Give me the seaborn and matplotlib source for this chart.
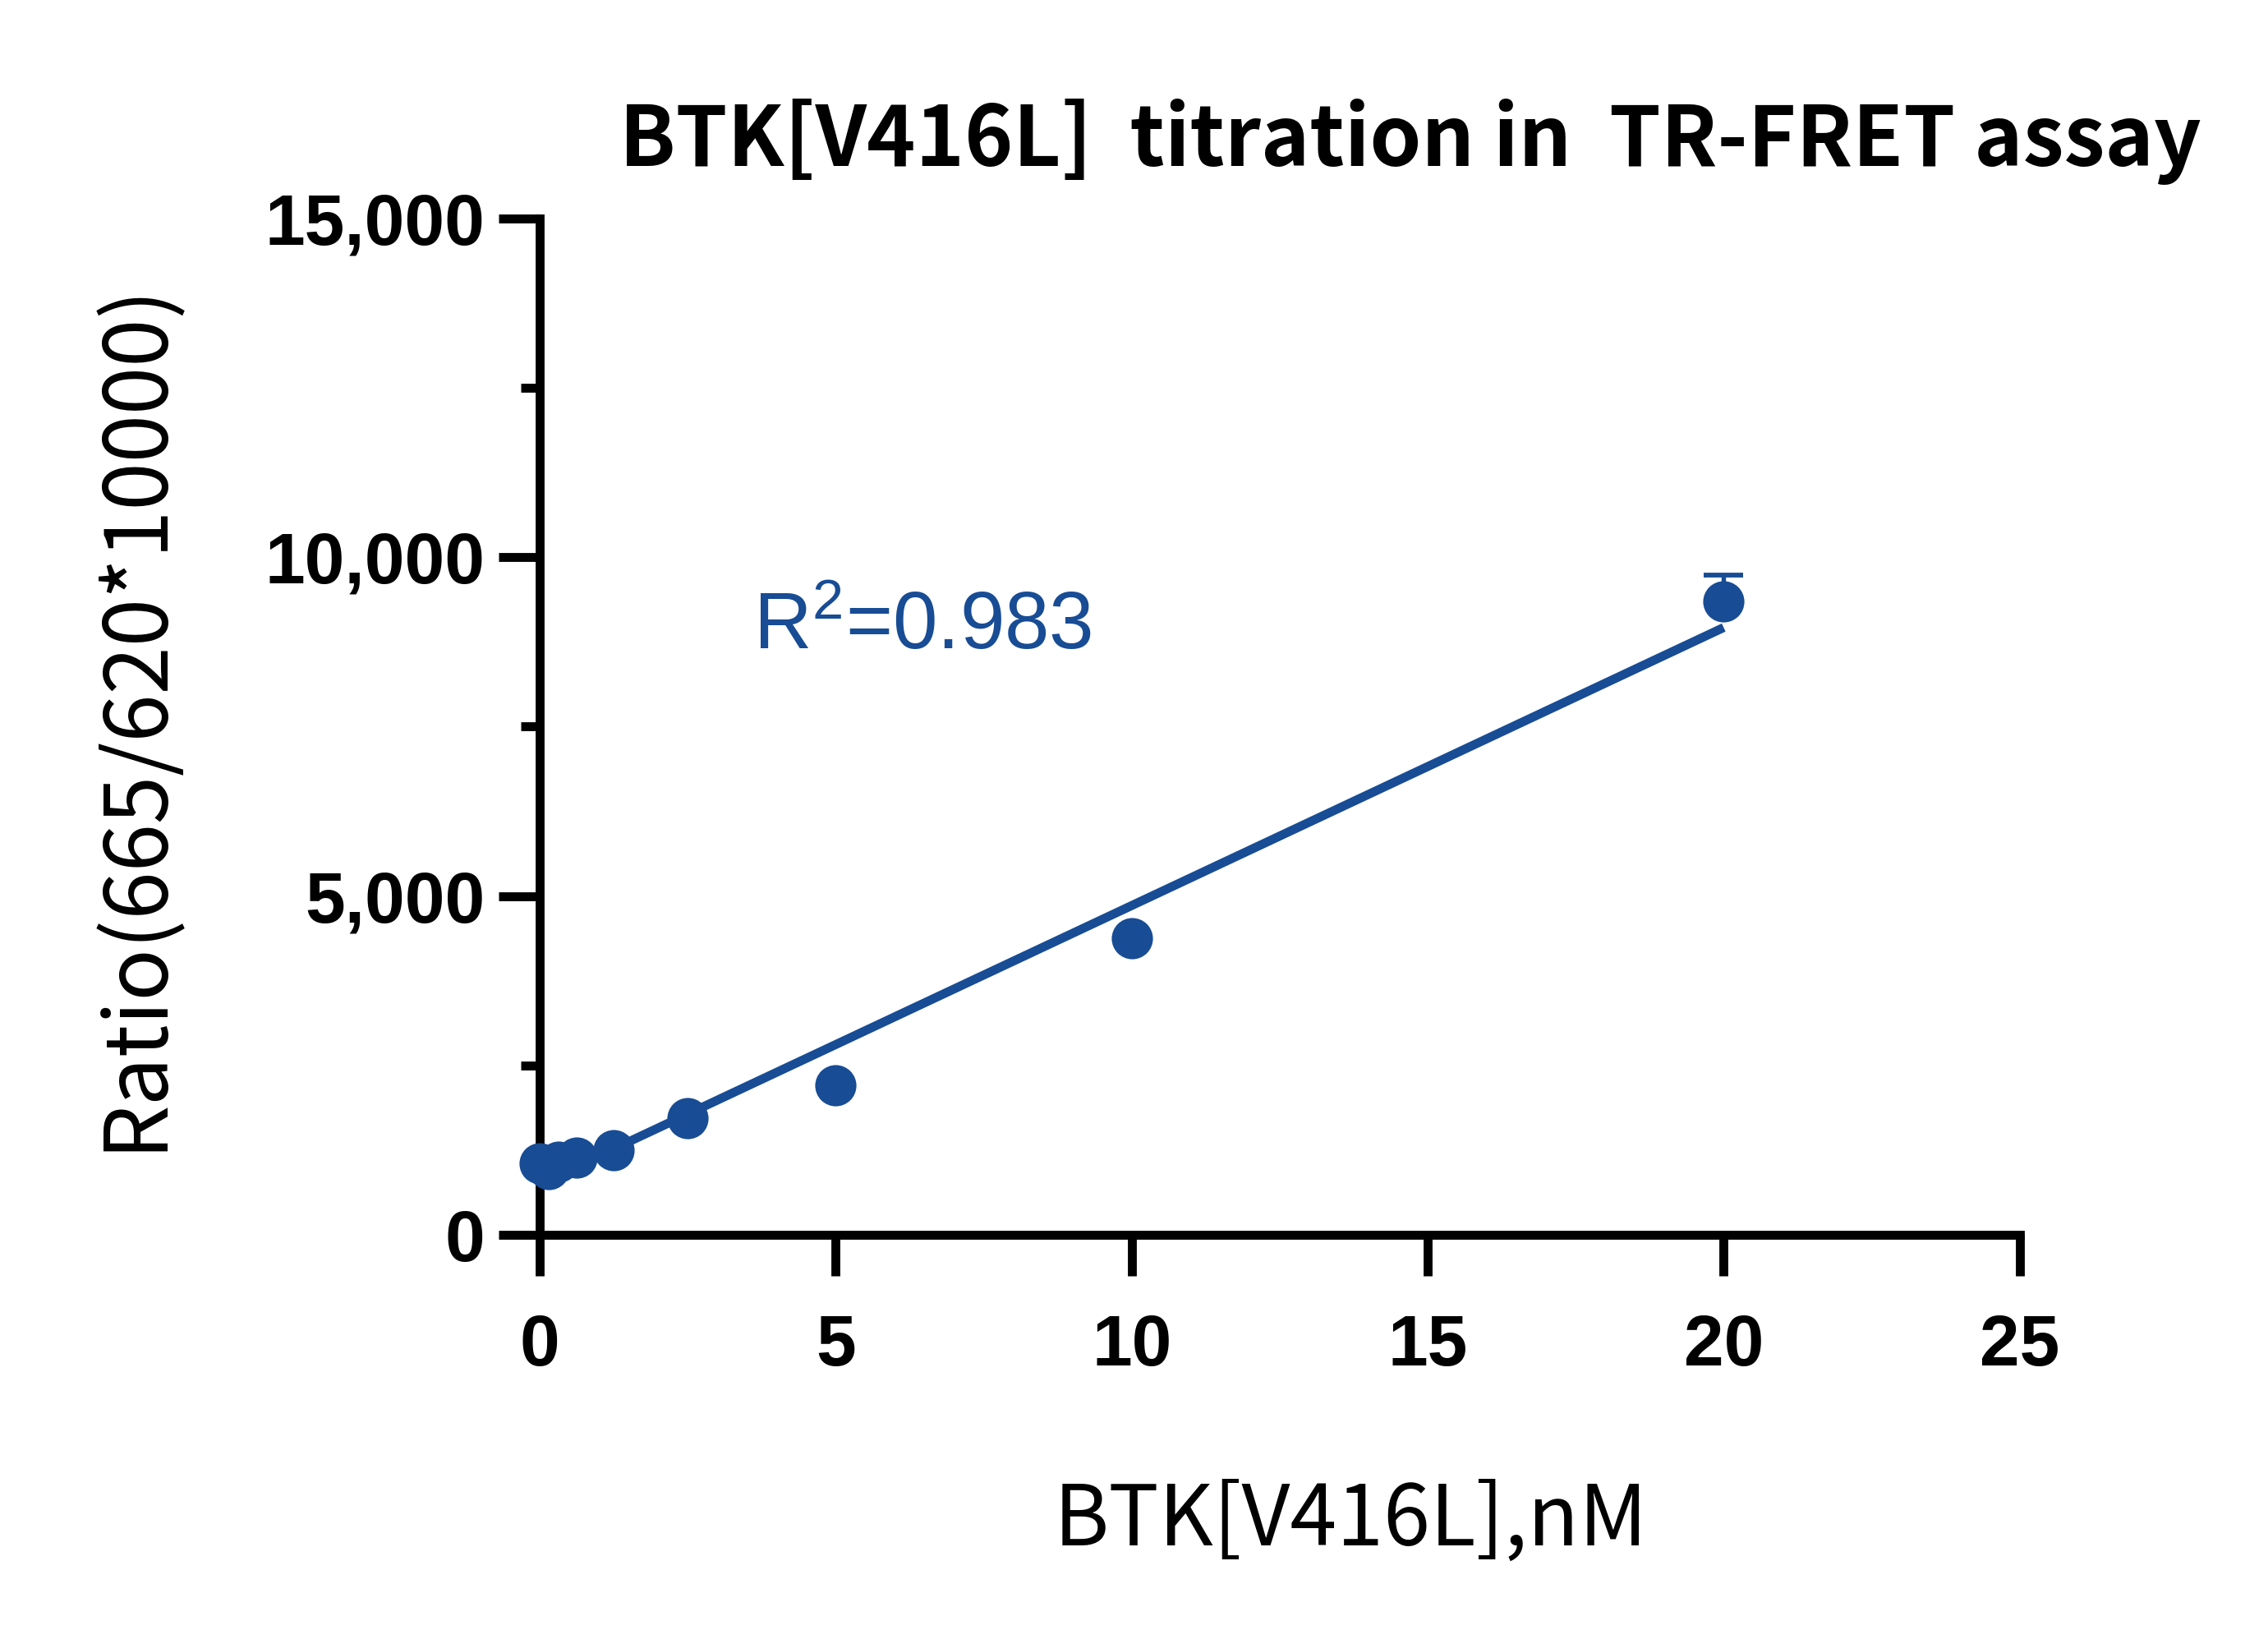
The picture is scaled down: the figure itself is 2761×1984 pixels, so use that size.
import numpy as np
import pandas as pd
import matplotlib
matplotlib.use("Agg")
import matplotlib.pyplot as plt
from matplotlib.ticker import MultipleLocator, StrMethodFormatter
import seaborn as sns

# BTK[V416L] titration (nM) vs TR-FRET ratio, mean values
conc = [0, 0.156, 0.3125, 0.625, 1.25, 2.5, 5, 10, 20]
ratio = [1056, 975, 1080, 1141, 1254, 1720, 2205, 4381, 9354]
sem_upper = [0, 0, 0, 0, 0, 0, 0, 0, 380]
r2_text = "R$^2$=0.983"

x_ticks = [0, 5, 10, 15, 20, 25]
y_ticks = [0, 5000, 10000, 15000]

blue = "#184c94"
cjk = ["Noto Sans CJK SC", "DejaVu Sans"]

sns.set_theme(style="ticks")
plt.rcParams["font.family"] = ["Liberation Sans", "DejaVu Sans"]
plt.rcParams["text.color"] = "black"
plt.rcParams["axes.labelcolor"] = "black"
plt.rcParams["mathtext.fontset"] = "custom"
plt.rcParams["mathtext.rm"] = "Liberation Sans"
plt.rcParams["mathtext.it"] = "Liberation Sans"

df = pd.DataFrame({"conc": conc, "ratio": ratio})

fig = plt.figure(figsize=(2761 / 300, 1984 / 300), dpi=300)
ax = fig.add_axes([0.238, 0.2424, 0.8905 - 0.238, 0.866 - 0.2424])

# points + least squares line
sns.regplot(data=df, x="conc", y="ratio", ax=ax, ci=None, color=blue,
            scatter_kws={"s": 145, "alpha": 1, "linewidths": 0, "clip_on": False, "zorder": 5},
            line_kws={"lw": 2.6, "zorder": 4, "solid_capstyle": "butt"})

# upper error bar only
ax.errorbar(conc, ratio, yerr=[np.zeros(len(sem_upper)), sem_upper], fmt="none",
            ecolor=blue, elinewidth=1.3, capsize=5.8, capthick=1.4, zorder=4, clip_on=False)

ax.set_xlim(0, 25)
ax.set_ylim(0, 15000)
ax.set_xticks(x_ticks)
ax.set_yticks(y_ticks)
ax.yaxis.set_minor_locator(MultipleLocator(2500))
ax.yaxis.set_major_formatter(StrMethodFormatter("{x:,.0f}"))

sns.despine(ax=ax)
for side in ["left", "bottom"]:
    ax.spines[side].set_linewidth(2.6)
    ax.spines[side].set_color("black")

ax.tick_params(axis="both", which="major", length=12, width=2.6, color="black")
ax.tick_params(axis="y", which="minor", length=5.5, width=2.6, color="black")
ax.tick_params(axis="x", pad=11)
ax.tick_params(axis="y", pad=4)
for lab in ax.get_xticklabels() + ax.get_yticklabels():
    lab.set_fontsize(21)
    lab.set_fontweight("bold")
    lab.set_color("black")

ax.set_xlabel("")
ax.set_ylabel("Ratio(665/620*10000)", fontsize=25.2, family=cjk, color="black", labelpad=25)
ax.yaxis.label.set_y(0.511)

ax.text(3.6, 8650, r2_text, fontsize=23.5, color=blue, ha="left", va="baseline")

fig.text(0.622, 0.898, "BTK[V416L]  titration in  TR-FRET assay", fontsize=24.2,
         fontweight="heavy", family=cjk, color="black", ha="center", va="baseline")
fig.text(0.5955, 0.052, "BTK[V416L],nM", fontsize=24.6, family=cjk, color="black",
         ha="center", va="baseline")

fig.savefig("out.png", dpi=300, facecolor="white")
